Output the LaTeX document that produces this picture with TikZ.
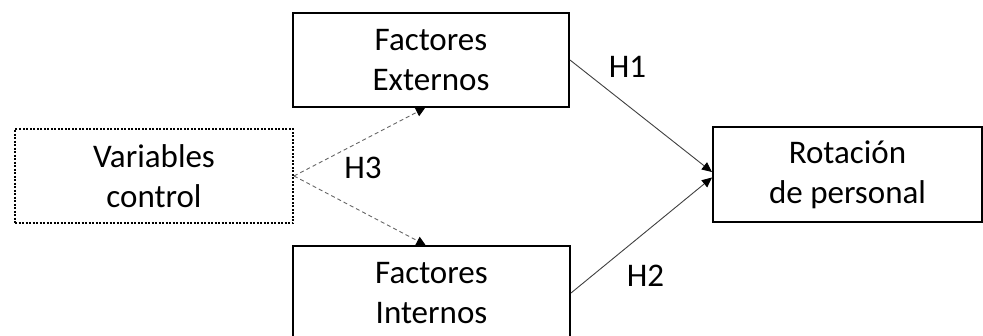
\documentclass[tikz,border=0pt]{standalone}
\usepackage{fontspec}
\setmainfont{Carlito}
\usetikzlibrary{arrows.meta,calc}
\begin{document}
\begin{tikzpicture}[x=1pt,y=-1pt,
  box/.style={draw=black,line width=2pt,fill=white,minimum width=276pt,minimum height=94pt,align=center,inner sep=0pt,font=\fontsize{33}{40}\selectfont},
  ctrlbox/.style={box,dash pattern=on 2pt off 1.5pt},
  link/.style={draw=black!75,line width=0.9pt,-{Triangle[length=10pt,width=9pt,color=black]}},
  dlink/.style={draw=black!60,line width=0.9pt,dash pattern=on 4pt off 3pt,-{Triangle[length=9pt,width=9pt,color=black]}},
  lab/.style={font=\fontsize{33}{40}\selectfont,inner sep=0pt}]
\clip (0,0) rectangle (983,335);
\node[box] (ext) at (431,60) {Factores\\Externos};
\node[box,minimum width=277pt] (int) at (431.5,293) {Factores\\Internos};
\node[ctrlbox,minimum width=278pt] (var) at (154,176) {Variables\\control};
\node[box,minimum width=269pt,minimum height=95pt] (rot) at (847.5,174.5) {Rotación\\de personal};
\draw[link] (ext.east) -- ($(rot.west)+(0,-2.5)$);
\draw[link] (int.east) -- ($(rot.west)+(0,3)$);
\draw[dlink] (var.east) -- ($(ext.south)+(-6,0)$);
\draw[dlink] (var.east) -- ($(int.north)+(-6,0)$);
\node[lab] (h1) at (627.5,66.5) {H1};
\node[lab] (h2) at (645.5,276) {H2};
\node[lab] (h3) at (363,167.5) {H3};
\end{tikzpicture}
\end{document}
